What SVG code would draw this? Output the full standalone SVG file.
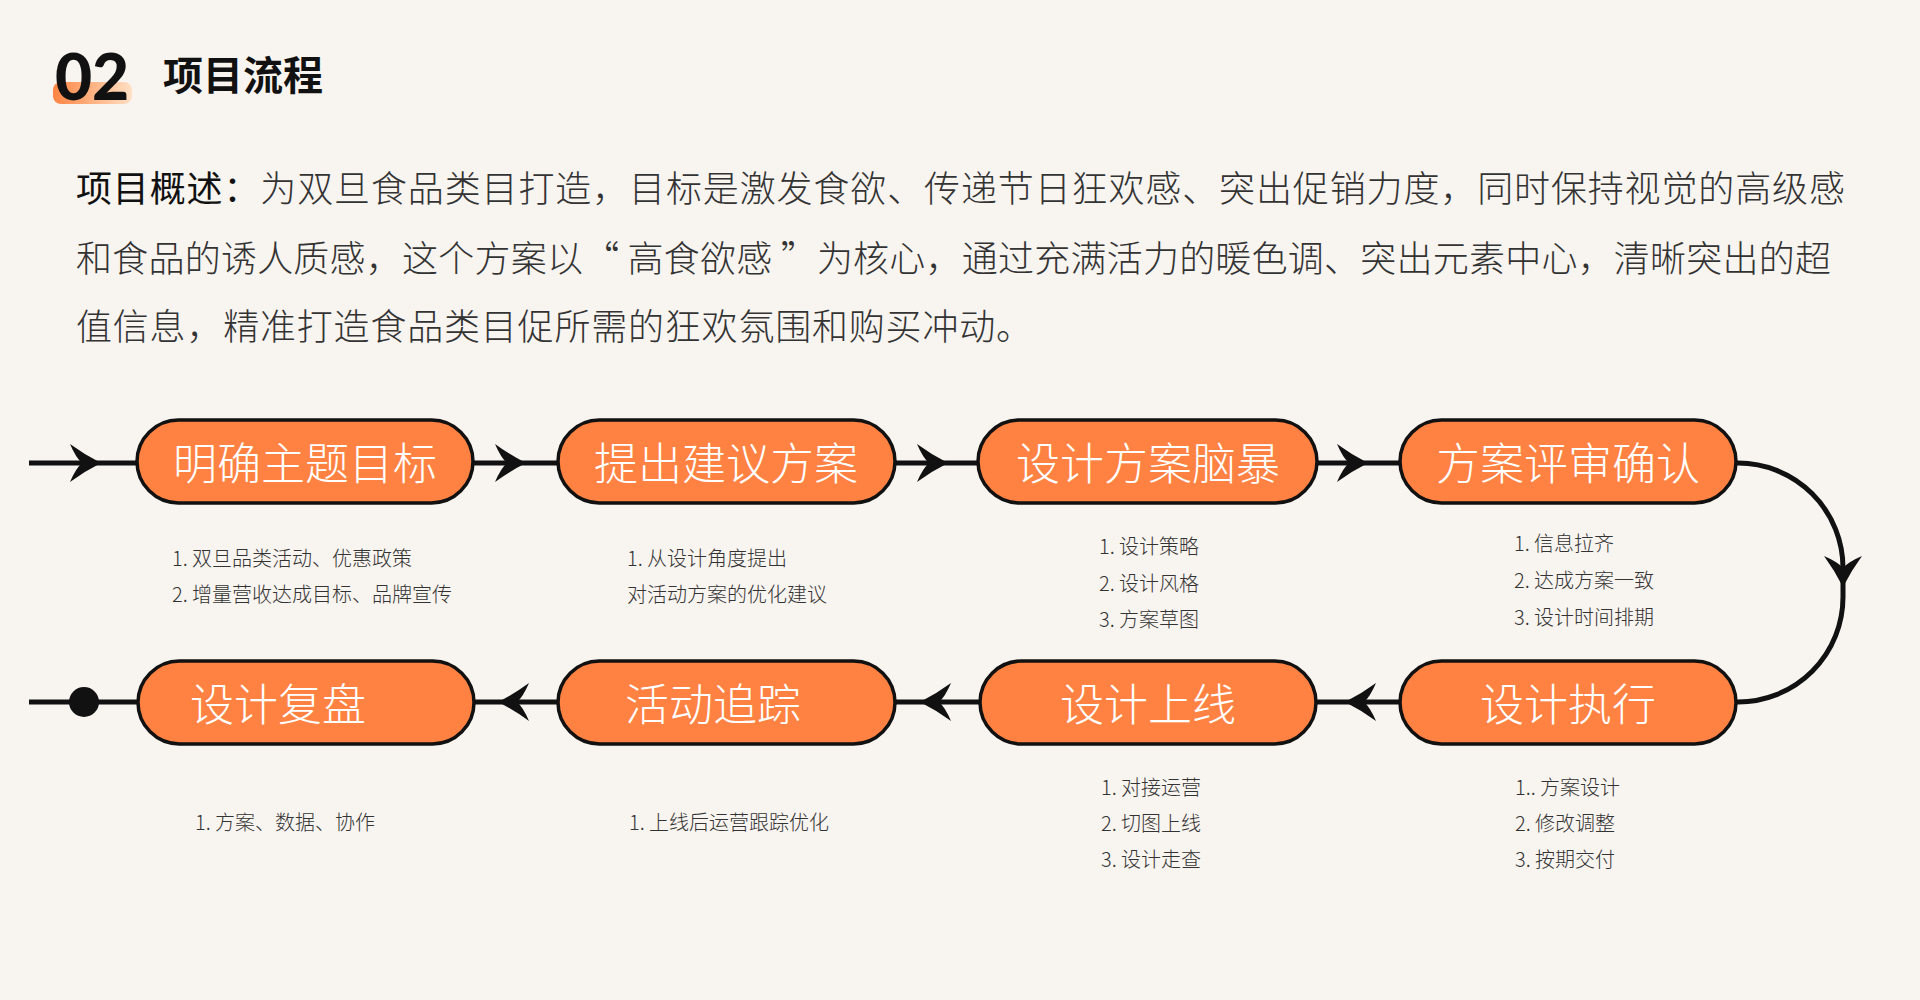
<svg xmlns="http://www.w3.org/2000/svg" xmlns:xlink="http://www.w3.org/1999/xlink" width="1920" height="1000" viewBox="0 0 1920 1000">
<defs>
<style>
.bg{fill:#F8F4F0}
.pill{fill:#FF8242;stroke:#111;stroke-width:3.5}
.pt{font-family:"Noto Sans CJK SC","Noto Sans",sans-serif;font-weight:200;font-size:44px;fill:#fff;dominant-baseline:central}
.ct{text-anchor:middle}
.desc{font-family:"Noto Sans CJK SC","Noto Sans",sans-serif;font-weight:300;font-size:20px;fill:#333;dominant-baseline:central}
.para{font-family:"Noto Sans CJK SC",sans-serif;font-weight:300;font-size:36px;fill:#333;dominant-baseline:central}
.line{fill:none;stroke:#111;stroke-width:5}
.ah{fill:#111}
</style>
<linearGradient id="hl" x1="0" y1="0" x2="1" y2="0">
<stop offset="0" stop-color="#FF8442"/>
<stop offset="1" stop-color="#FFE0C4"/>
</linearGradient>
<path id="arrow" d="M0,0 Q-16,-8 -31,-19 Q-25,-5 -19,0 Q-25,5 -31,19 Q-16,8 0,0 Z"/>
</defs>
<rect class="bg" x="0" y="0" width="1920" height="1000"/>

<g id="header">
<rect x="53" y="82" width="79" height="22" rx="8" fill="url(#hl)"/>
<text x="55" y="100" font-family="Lato,'Noto Sans',sans-serif" font-weight="900" font-size="64" fill="#111">02</text>
<text x="163" y="73" font-family="'Noto Sans CJK SC',sans-serif" font-weight="700" font-size="40" fill="#111" dominant-baseline="central">项目流程</text>
</g>

<g id="overview">
<text class="para" x="76" y="186" textLength="1769" lengthAdjust="spacing"><tspan font-weight="400" fill="#111">项目概述：</tspan>为双旦食品类目打造，目标是激发食欲、传递节日狂欢感、突出促销力度，同时保持视觉的高级感</text>
<text class="para" x="76" y="256" textLength="1755" lengthAdjust="spacing">和食品的诱人质感，这个方案以“ 高食欲感 ”为核心，通过充满活力的暖色调、突出元素中心，清晰突出的超</text>
<text class="para" x="76" y="324" letter-spacing="0.8">值信息，精准打造食品类目促所需的狂欢氛围和购买冲动。</text>
</g>

<g id="connectors">
<path class="line" d="M29,463 H137"/>
<path class="line" d="M473,463 H558"/>
<path class="line" d="M895,463 H978"/>
<path class="line" d="M1317,463 H1400"/>
<path class="line" d="M1736,463 H1738 A105,105 0 0 1 1843,568 V597 A105,105 0 0 1 1738,702 H1736"/>
<path class="line" d="M1400,702 H1316"/>
<path class="line" d="M980,702 H895"/>
<path class="line" d="M558,702 H474"/>
<path class="line" d="M138,702 H29"/>
<use href="#arrow" class="ah" transform="translate(101,463)"/>
<use href="#arrow" class="ah" transform="translate(526,463)"/>
<use href="#arrow" class="ah" transform="translate(948,463)"/>
<use href="#arrow" class="ah" transform="translate(1368,463)"/>
<use href="#arrow" class="ah" transform="translate(1843,587) rotate(90)"/>
<use href="#arrow" class="ah" transform="translate(1345,702) rotate(180)"/>
<use href="#arrow" class="ah" transform="translate(920,702) rotate(180)"/>
<use href="#arrow" class="ah" transform="translate(498,702) rotate(180)"/>
<circle cx="84" cy="702" r="15" fill="#111"/>
</g>

<g id="n1">
<rect class="pill" x="137" y="420" width="336" height="83" rx="41.5"/>
<text class="pt ct" x="305" y="461">明确主题目标</text>
<text class="desc" x="172" y="557">1. 双旦品类活动、优惠政策</text>
<text class="desc" x="172" y="593">2. 增量营收达成目标、品牌宣传</text>
</g>
<g id="n2">
<rect class="pill" x="558" y="420" width="337" height="83" rx="41.5"/>
<text class="pt ct" x="726" y="461">提出建议方案</text>
<text class="desc" x="627" y="557">1. 从设计角度提出</text>
<text class="desc" x="627" y="593">对活动方案的优化建议</text>
</g>
<g id="n3">
<rect class="pill" x="978" y="420" width="339" height="83" rx="41.5"/>
<text class="pt ct" x="1148" y="461">设计方案脑暴</text>
<text class="desc" x="1099" y="545">1. 设计策略</text>
<text class="desc" x="1099" y="582">2. 设计风格</text>
<text class="desc" x="1099" y="618">3. 方案草图</text>
</g>
<g id="n4">
<rect class="pill" x="1400" y="420" width="336" height="83" rx="41.5"/>
<text class="pt ct" x="1568" y="461">方案评审确认</text>
<text class="desc" x="1514" y="542">1. 信息拉齐</text>
<text class="desc" x="1514" y="579">2. 达成方案一致</text>
<text class="desc" x="1514" y="616">3. 设计时间排期</text>
</g>
<g id="n5">
<rect class="pill" x="1400" y="661" width="336" height="83" rx="41.5"/>
<text class="pt ct" x="1568" y="702">设计执行</text>
<text class="desc" x="1515" y="786">1.. 方案设计</text>
<text class="desc" x="1515" y="822">2. 修改调整</text>
<text class="desc" x="1515" y="858">3. 按期交付</text>
</g>
<g id="n6">
<rect class="pill" x="980" y="661" width="336" height="83" rx="41.5"/>
<text class="pt ct" x="1148" y="702">设计上线</text>
<text class="desc" x="1101" y="786">1. 对接运营</text>
<text class="desc" x="1101" y="822">2. 切图上线</text>
<text class="desc" x="1101" y="858">3. 设计走查</text>
</g>
<g id="n7">
<rect class="pill" x="558" y="661" width="337" height="83" rx="41.5"/>
<text class="pt" x="625" y="702">活动追踪</text>
<text class="desc" x="629" y="821">1. 上线后运营跟踪优化</text>
</g>
<g id="n8">
<rect class="pill" x="138" y="661" width="336" height="83" rx="41.5"/>
<text class="pt" x="190" y="702">设计复盘</text>
<text class="desc" x="195" y="821">1. 方案、数据、协作</text>
</g>
</svg>
